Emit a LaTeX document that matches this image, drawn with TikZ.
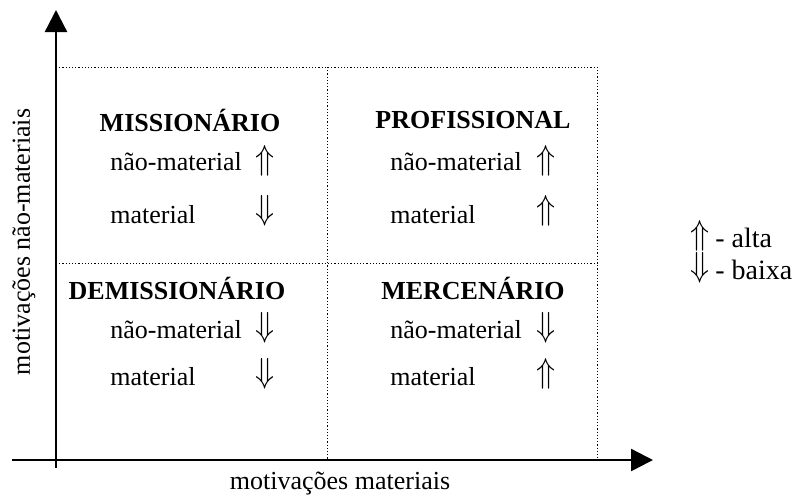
\documentclass[tikz,border=0pt]{standalone}
\usepackage{fontspec}
\setmainfont{Liberation Serif}
\usetikzlibrary{arrows.meta}

\newcommand{\setacima}{\scalebox{1.3}[1.45]{$\Uparrow$}}
\newcommand{\setabaixo}{\scalebox{1.3}[1.45]{$\Downarrow$}}

\tikzset{
    eixo/.style={line width=1.2pt, -{Triangle[length=11pt,width=11pt]}},
    grade/.style={line width=0.5pt, dash pattern=on 0.6pt off 1pt},
    rotulo/.style={inner sep=0pt, font=\fontsize{13}{15}\selectfont},
    titulo/.style={inner sep=0pt, font=\fontsize{13}{15}\selectfont\bfseries},
    legenda/.style={inner sep=0pt, font=\fontsize{14}{16}\selectfont},
}

\begin{document}
\begin{tikzpicture}[x=0.5pt, y=-0.5pt]
        \useasboundingbox (0,0) rectangle (806,499);

        % eixos
        \coordinate (ybase) at (56,468);
        \coordinate (ytopo) at (56,10);
        \coordinate (xbase) at (12,460);
        \coordinate (xfim) at (653,460);
        \draw[eixo] (ybase) -- (ytopo);
        \draw[eixo] (xbase) -- (xfim);

        % quadrantes
        \draw[grade] (56,67) -- (597,67) -- (597,460);
        \draw[grade] (327,67) -- (327,460);
        \draw[grade] (56,263) -- (597,263);

        \node[titulo] (miss) at (190,120) {MISSIONÁRIO};
        \node[rotulo, anchor=west] (missnm) at (110,162) {não-material};
        \node[rotulo] (missnmseta) at (265,161) {\setacima};
        \node[rotulo, anchor=west] (missm) at (110,215) {material};
        \node[rotulo] (missmseta) at (265,211) {\setabaixo};

        \node[titulo] (prof) at (473,120) {PROFISSIONAL};
        \node[rotulo, anchor=west] (profnm) at (390,162) {não-material};
        \node[rotulo] (profnmseta) at (546,161) {\setacima};
        \node[rotulo, anchor=west] (profm) at (390,215) {material};
        \node[rotulo] (profmseta) at (546,211) {\setacima};

        \node[titulo] (dem) at (177,288) {DEMISSIONÁRIO};
        \node[rotulo, anchor=west] (demnm) at (110,330) {não-material};
        \node[rotulo] (demnmseta) at (265,328) {\setabaixo};
        \node[rotulo, anchor=west] (demm) at (110,377) {material};
        \node[rotulo] (demmseta) at (265,374) {\setabaixo};

        \node[titulo] (merc) at (473,288) {MERCENÁRIO};
        \node[rotulo, anchor=west] (mercnm) at (390,330) {não-material};
        \node[rotulo] (mercnmseta) at (546,328) {\setabaixo};
        \node[rotulo, anchor=west] (mercm) at (390,377) {material};
        \node[rotulo] (mercmseta) at (546,374) {\setacima};

        % legenda
        \node[rotulo] (altaseta) at (700,236) {\setacima};
        \node[legenda, anchor=west] (alta) at (715,238) {- alta};
        \node[rotulo] (baixaseta) at (700,268) {\setabaixo};
        \node[legenda, anchor=west] (baixa) at (715,270) {- baixa};

        \node[rotulo, rotate=90] (ylabel) at (24,242) {motivações não-materiais};
        \node[rotulo] (xlabel) at (340,483) {motivações materiais};
    \end{tikzpicture}
\end{document}
